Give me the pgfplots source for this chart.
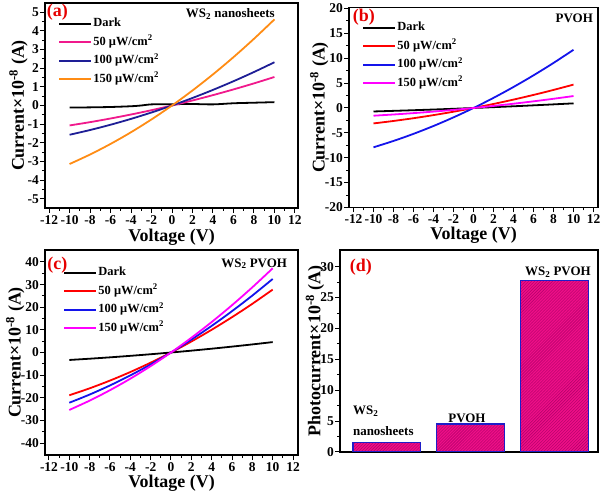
\documentclass[border=0pt]{standalone}
\usepackage{pgfplots}
\pgfplotsset{compat=1.18}
\usepackage{fontspec}
\setmainfont{Liberation Serif}
\usetikzlibrary{patterns}
\definecolor{apink}{RGB}{240,25,140}
\definecolor{anavy}{RGB}{30,30,150}
\definecolor{aorange}{RGB}{255,140,20}
\definecolor{bred}{RGB}{255,0,0}
\definecolor{bblue}{RGB}{20,20,235}
\definecolor{bmag}{RGB}{255,0,255}
\definecolor{barfill}{RGB}{238,15,135}
\definecolor{barline}{RGB}{175,0,105}
\definecolor{barborder}{RGB}{30,30,200}
\definecolor{plabel}{RGB}{230,0,0}

\pgfplotsset{
  base/.style={
    scale only axis,
    anchor=south west,
    axis line style={line width=1.3bp},
    tick align=outside,
    xtick pos=left, ytick pos=left,
    major tick length=5bp, minor tick length=3bp,
    every tick/.append style={line width=1bp, black},
    minor tick num=1,
    /pgf/number format/assume math mode=true,
    tick label style={font=\fontsize{13.5}{13.5}\selectfont\bfseries},
    x tick label style={inner sep=2bp},
    y tick label style={inner sep=1bp},
    label style={font=\fontsize{18}{18}\selectfont\bfseries},
    legend cell align=left,
    legend style={draw=none, fill=none, inner sep=0pt, anchor=north west,
      font=\fontsize{12.5}{12.5}\selectfont\bfseries,
      nodes={text height=9bp, text depth=3bp, inner sep=1.5bp},
      row sep=3.5bp},
    legend image code/.code={\draw[#1] (0bp,0bp) -- (32bp,0bp);},
  },
  iv/.style={
    base,
    xtick={-12,-10,...,12},
    xlabel={Voltage (V)},
    ylabel={Current×10\textsuperscript{-8} (A)},
  },
  curve/.style={line width=1.8bp, smooth, no marks},
}

\begin{document}
\begin{tikzpicture}
\useasboundingbox (0,0) rectangle (600bp,493bp);

% (a)
\begin{axis}[iv, at={(45bp,285bp)}, width=253bp, height=205bp,
  xmin=-12.4, xmax=12.3, ymin=-5.5, ymax=5.5,
  ytick={-5,-4,...,5},
  ylabel style={at={(axis description cs:-0.105,0.5)}, anchor=center},
  xlabel style={at={(axis description cs:0.5,-0.143)}, anchor=center},
  legend style={at={(axis description cs:0.051,0.937)}}]
\addplot[curve, black] coordinates {(-10,-0.11)(-8,-0.10)(-6,-0.08)(-4,-0.04)(-3,0.0)(-2,0.06)(0,0.07)(2,0.08)(4,0.06)(6,0.12)(8,0.15)(10,0.18)};
\addlegendentry{Dark}
\addplot[curve, apink] coordinates {(-10,-1.07)(-8,-0.893)(-6,-0.697)(-4,-0.483)(-2,-0.251)(0,0)(2,0.269)(4,0.557)(6,0.863)(8,1.187)(10,1.53)};
\addlegendentry{50 μW/cm\textsuperscript{2}}
\addplot[curve, anavy] coordinates {(-10,-1.57)(-8,-1.316)(-6,-1.032)(-4,-0.718)(-2,-0.374)(0,0)(2,0.404)(4,0.838)(6,1.302)(8,1.796)(10,2.32)};
\addlegendentry{100 μW/cm\textsuperscript{2}}
\addplot[curve, aorange] coordinates {(-10,-3.14)(-8,-2.63)(-6,-2.062)(-4,-1.434)(-2,-0.746)(0,0)(2,0.806)(4,1.67)(6,2.594)(8,3.578)(10,4.62)};
\addlegendentry{150 μW/cm\textsuperscript{2}}
\node[text=plabel, font=\fontsize{18}{18}\selectfont\bfseries, inner sep=0pt] at (rel axis cs:0.049,0.956) {(a)};
\node[anchor=base east, inner sep=0pt, font=\fontsize{13}{13}\selectfont\bfseries] at (rel axis cs:0.909,0.927) {WS\textsubscript{2} nanosheets};
\end{axis}

% (b)
\begin{axis}[iv, at={(349bp,285.5bp)}, width=249bp, height=200bp,
  xmin=-12.45, xmax=12.45, ymin=-20, ymax=20.2,
  ytick={-20,-15,...,20},
  ylabel style={at={(axis description cs:-0.12,0.5)}, anchor=center},
  xlabel style={at={(axis description cs:0.5,-0.14)}, anchor=center},
  legend style={at={(axis description cs:0.052,0.9375)}}]
\addplot[curve, black] coordinates {(-10,-0.7)(-8,-0.575)(-6,-0.446)(-4,-0.307)(-2,-0.158)(0,0)(2,0.168)(4,0.345)(6,0.532)(8,0.729)(10,0.93)};
\addlegendentry{Dark}
\addplot[curve, bred] coordinates {(-10,-3.1)(-8,-2.608)(-6,-2.052)(-4,-1.432)(-2,-0.748)(0,0)(2,0.812)(4,1.688)(6,2.628)(8,3.632)(10,4.7)};
\addlegendentry{50 μW/cm\textsuperscript{2}}
\addplot[curve, bblue] coordinates {(-10,-7.9)(-8,-6.624)(-6,-5.196)(-4,-3.616)(-2,-1.884)(0,0)(2,2.036)(4,4.224)(6,6.564)(8,9.056)(10,11.7)};
\addlegendentry{100 μW/cm\textsuperscript{2}}
\addplot[curve, bmag] coordinates {(-10,-1.55)(-8,-1.305)(-6,-1.03)(-4,-0.721)(-2,-0.378)(0,0)(2,0.412)(4,0.859)(6,1.34)(8,1.855)(10,2.4)};
\addlegendentry{150 μW/cm\textsuperscript{2}}
\node[text=plabel, font=\fontsize{18}{18}\selectfont\bfseries, inner sep=0pt] at (rel axis cs:0.06,0.95) {(b)};
\node[anchor=base east, inner sep=0pt, font=\fontsize{13}{13}\selectfont\bfseries] at (rel axis cs:0.98,0.9225) {PVOH};
\end{axis}

% (c)
\begin{axis}[iv, at={(45bp,38bp)}, width=253bp, height=205bp,
  xmin=-12.39, xmax=12.49, ymin=-45.3, ymax=45.3,
  ytick={-40,-30,...,40},
  ylabel style={at={(axis description cs:-0.118,0.5)}, anchor=center},
  xlabel style={at={(axis description cs:0.5,-0.14)}, anchor=center},
  legend style={at={(axis description cs:0.071,0.927)}}]
\addplot[curve, black] coordinates {(-10,-3.3)(-8,-2.744)(-6,-2.136)(-4,-1.476)(-2,-0.764)(0,0)(2,0.816)(4,1.684)(6,2.604)(8,3.576)(10,4.6)};
\addlegendentry{Dark}
\addplot[curve, bred] coordinates {(-10,-18.9)(-8,-15.832)(-6,-12.408)(-4,-8.628)(-2,-4.492)(0,0)(2,4.848)(4,10.052)(6,15.612)(8,21.528)(10,27.8)};
\addlegendentry{50 μW/cm\textsuperscript{2}}
\addplot[curve, bblue] coordinates {(-10,-22.2)(-8,-18.584)(-6,-14.556)(-4,-10.116)(-2,-5.264)(0,0)(2,5.676)(4,11.764)(6,18.264)(8,25.176)(10,32.5)};
\addlegendentry{100 μW/cm\textsuperscript{2}}
\addplot[curve, bmag] coordinates {(-10,-25.4)(-8,-21.264)(-6,-16.656)(-4,-11.576)(-2,-6.024)(0,0)(2,6.496)(4,13.464)(6,20.904)(8,28.816)(10,37.2)};
\addlegendentry{150 μW/cm\textsuperscript{2}}
\node[text=plabel, font=\fontsize{18}{18}\selectfont\bfseries, inner sep=0pt] at (rel axis cs:0.049,0.924) {(c)};
\node[anchor=base east, inner sep=0pt, font=\fontsize{13}{13}\selectfont\bfseries] at (rel axis cs:0.957,0.917) {WS\textsubscript{2} PVOH};
\end{axis}

% (d)
\begin{axis}[base, at={(340bp,41bp)}, width=258bp, height=202bp,
  xmin=0.44, xmax=3.52, ymin=0, ymax=32.7,
  xtick=\empty, ytick={0,5,...,30},
  ylabel={Photocurrent×10\textsuperscript{-8} (A)},
  ylabel style={at={(axis description cs:-0.097,0.5)}, anchor=center}]
\addplot[ybar, bar width=0.81, fill=barfill, draw=barborder, line width=1.3bp,
  postaction={pattern=north east lines, pattern color=barline}]
  coordinates {(1,1.5)(2,4.55)(3,27.75)};
\node[text=plabel, font=\fontsize{18}{18}\selectfont\bfseries, inner sep=0pt] at (rel axis cs:0.081,0.913) {(d)};
\node[anchor=base west, inner sep=0pt, font=\fontsize{13}{13}\selectfont\bfseries] at (axis cs:0.594,6.0) {WS\textsubscript{2}};
\node[anchor=base west, inner sep=0pt, font=\fontsize{13}{13}\selectfont\bfseries] at (axis cs:0.594,2.75) {nanosheets};
\node[anchor=base west, inner sep=0pt, font=\fontsize{13}{13}\selectfont\bfseries] at (axis cs:1.731,4.85) {PVOH};
\node[anchor=base west, inner sep=0pt, font=\fontsize{13}{13}\selectfont\bfseries] at (axis cs:2.648,28.6) {WS\textsubscript{2} PVOH};
\end{axis}
\end{tikzpicture}
\end{document}
